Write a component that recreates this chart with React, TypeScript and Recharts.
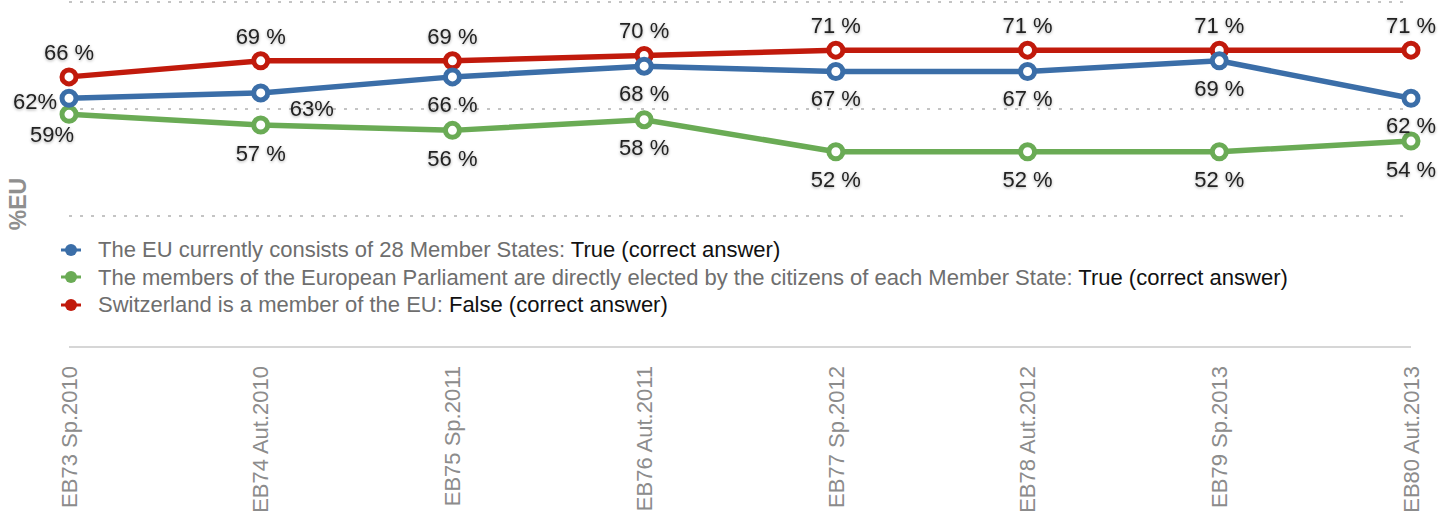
import React from 'react';
import { LineChart, Line, XAxis, YAxis, CartesianGrid, Legend, LabelList } from 'recharts';

const waves = [
  'EB73 Sp.2010',
  'EB74 Aut.2010',
  'EB75 Sp.2011',
  'EB76 Aut.2011',
  'EB77 Sp.2012',
  'EB78 Aut.2012',
  'EB79 Sp.2013',
  'EB80 Aut.2013',
];

const memberStates = [62, 63, 66, 68, 67, 67, 69, 62];
const parliament = [59, 57, 56, 58, 52, 52, 52, 54];
const switzerland = [66, 69, 69, 70, 71, 71, 71, 71];

const gridTicks = [40, 60, 80];

const data = waves.map((wave, i) => ({
  wave,
  memberStates: memberStates[i],
  parliament: parliament[i],
  switzerland: switzerland[i],
}));

const FONT = '"Liberation Sans", Arial, Helvetica, sans-serif';
const BLUE = '#3b6ea8';
const GREEN = '#6aab55';
const RED = '#c11a0c';

const legendItems = [
  { color: BLUE, text: 'The EU currently consists of 28 Member States:', answer: 'True (correct answer)' },
  {
    color: GREEN,
    text: 'The members of the European Parliament are directly elected by the citizens of each Member State:',
    answer: 'True (correct answer)',
  },
  { color: RED, text: 'Switzerland is a member of the EU:', answer: 'False (correct answer)' },
];

type Place = { dx: number; dy: number; anchor: 'start' | 'middle' | 'end'; compact?: boolean };

// where each series puts its value labels around the points
const placeFor: Record<string, (i: number) => Place> = {
  switzerland: () => ({ dx: 0, dy: -25, anchor: 'middle' }),
  memberStates: (i) =>
    i === 0
      ? { dx: -12, dy: 3, anchor: 'end', compact: true }
      : i === 1
      ? { dx: 29, dy: 15, anchor: 'start', compact: true }
      : { dx: 0, dy: 27, anchor: 'middle' },
  parliament: (i) =>
    i === 0 ? { dx: -17, dy: 20, anchor: 'middle', compact: true } : { dx: 0, dy: 28, anchor: 'middle' },
};

const makeLabel = (key: string) => (props: any) => {
  const { x, y, value, index } = props;
  const p = placeFor[key](index);
  return (
    <text
      x={x + p.dx}
      y={y + p.dy}
      dy="0.35em"
      textAnchor={p.anchor}
      fontSize={22}
      fontFamily={FONT}
      fill="#222"
      style={{ filter: 'drop-shadow(0px 1px 1.5px rgba(0,0,0,0.35))' }}
    >
      {p.compact ? `${value}%` : `${value} %`}
    </text>
  );
};

const WaveTick = (props: any) => {
  const { x, y, payload } = props;
  const ty = y + 11;
  return (
    <text
      x={x}
      y={ty}
      dy="0.35em"
      transform={`rotate(-90, ${x}, ${ty})`}
      textAnchor="end"
      fontSize={22}
      fontFamily={FONT}
      fill="#8c8c8c"
    >
      {payload.value}
    </text>
  );
};

const LegendContent = () => (
  <div style={{ fontFamily: FONT, fontSize: 22, lineHeight: '27.5px' }}>
    {legendItems.map((item) => (
      <div key={item.text} style={{ display: 'flex', alignItems: 'center', whiteSpace: 'nowrap' }}>
        <svg width={22} height={14} style={{ marginRight: 16 }}>
          <line x1={1} y1={7} x2={21} y2={7} stroke={item.color} strokeWidth={3} />
          <circle cx={11} cy={7} r={6} fill={item.color} />
        </svg>
        <span>
          <span style={{ color: '#6e6e6e' }}>{item.text}</span>{' '}
          <span style={{ color: '#111' }}>{item.answer}</span>
        </span>
      </div>
    ))}
  </div>
);

const App: React.FC = () => {
  return (
    <div style={{ position: 'absolute', left: 0, top: 0, width: 1453, height: 517, background: '#fff', overflow: 'hidden' }}>
      <div
        style={{
          position: 'absolute',
          left: 18,
          top: 204,
          transform: 'translate(-50%, -50%) rotate(-90deg)',
          fontFamily: FONT,
          fontSize: 23,
          fontWeight: 'bold',
          color: '#8f8f8f',
          whiteSpace: 'nowrap',
        }}
      >
        %EU
      </div>
      <LineChart width={1453} height={517} data={data} margin={{ top: 2, right: 42, bottom: 0, left: 69 }}>
        <CartesianGrid vertical={false} stroke="#c4c4c4" strokeWidth={2} strokeDasharray="3 8" />
        <XAxis
          dataKey="wave"
          interval={0}
          height={170}
          tickLine={false}
          axisLine={{ stroke: '#d6d6d6', strokeWidth: 2 }}
          tick={<WaveTick />}
          padding={{ left: 0, right: 0 }}
        />
        <YAxis hide domain={[15.5, 80]} ticks={gridTicks} />
        <Legend
          verticalAlign="middle"
          layout="horizontal"
          content={<LegendContent />}
          wrapperStyle={{ top: 236, left: 60, width: 'auto' }}
        />
        <Line
          type="linear"
          dataKey="switzerland"
          stroke={RED}
          strokeWidth={5.5}
          dot={{ r: 7, fill: '#fff', stroke: RED, strokeWidth: 5 }}
          isAnimationActive={false}
        >
          <LabelList dataKey="switzerland" content={makeLabel('switzerland')} />
        </Line>
        <Line
          type="linear"
          dataKey="parliament"
          stroke={GREEN}
          strokeWidth={5.5}
          dot={{ r: 7, fill: '#fff', stroke: GREEN, strokeWidth: 5 }}
          isAnimationActive={false}
        >
          <LabelList dataKey="parliament" content={makeLabel('parliament')} />
        </Line>
        <Line
          type="linear"
          dataKey="memberStates"
          stroke={BLUE}
          strokeWidth={5.5}
          dot={{ r: 7, fill: '#fff', stroke: BLUE, strokeWidth: 5 }}
          isAnimationActive={false}
        >
          <LabelList dataKey="memberStates" content={makeLabel('memberStates')} />
        </Line>
      </LineChart>
    </div>
  );
};

export default App;
